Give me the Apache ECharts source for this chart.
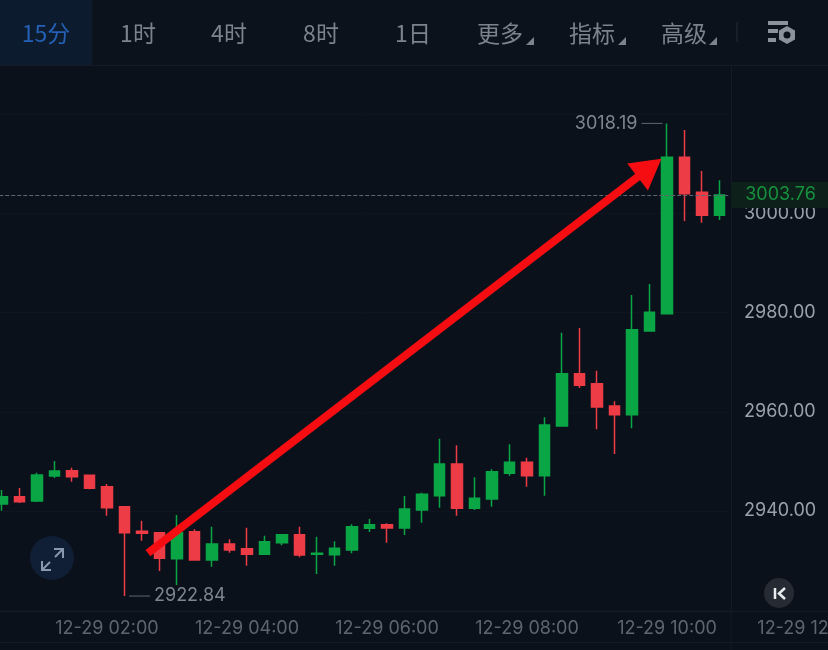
<!DOCTYPE html>
<html>
<head>
<meta charset="utf-8">
<style>
  html, body { margin: 0; padding: 0; background: #0b111b; }
  #main { width: 828px; height: 650px; }
</style>
<script src="https://cdn.jsdelivr.net/npm/echarts@6/dist/echarts.min.js"></script>
</head>
<body>
<div id="main"></div>
<script>
// time labels, every 15 minutes (the last ones have no candle yet)
var times = ["00:30","00:45","01:00","01:15","01:30","01:45","02:00","02:15","02:30","02:45","03:00","03:15",
  "03:30","03:45","04:00","04:15","04:30","04:45","05:00","05:15","05:30","05:45","06:00","06:15",
  "06:30","06:45","07:00","07:15","07:30","07:45","08:00","08:15","08:30","08:45","09:00","09:15",
  "09:30","09:45","10:00","10:15","10:30","10:45","11:00","11:15","11:30","11:45","12:00","12:15"];
var dateLabel = "12-29";
var shownTimes = ["02:00","04:00","06:00","08:00","10:00","12:00"];

var opens = [2941.41,2942.88,2942.01,2947.06,2948.13,2947.20,2944.90,2940.86,2935.90,2935.62,2930.37,2935.82,
  2930.11,2933.34,2932.39,2931.26,2933.60,2935.21,2931.26,2931.18,2932.13,2936.50,2937.23,2936.57,
  2940.20,2943.08,2949.48,2940.54,2942.42,2947.60,2949.82,2947.12,2957.14,2967.69,2965.68,2961.18,
  2959.42,2976.31,2979.80,3011.35,3004.29,2999.65];
var closes = [2942.88,2941.87,2947.26,2948.06,2946.91,2944.57,2940.66,2935.62,2935.50,2930.45,2935.62,2930.11,
  2933.34,2932.13,2931.26,2933.80,2935.21,2931.12,2931.46,2932.47,2936.83,2937.23,2936.57,2940.40,
  2943.36,2949.48,2940.54,2942.56,2947.92,2949.82,2947.12,2957.34,2967.69,2965.35,2960.98,2959.42,
  2976.57,2980.08,3011.35,3004.01,2999.65,3003.76];
var lows = [2940.06,2941.61,2941.81,2946.65,2945.91,2944.37,2939.05,2922.84,2934.00,2927.89,2925.07,2929.97,
  2928.76,2931.58,2928.96,2931.12,2933.07,2930.65,2927.28,2928.96,2931.46,2935.76,2933.60,2935.15,
  2937.63,2940.66,2939.05,2940.20,2940.86,2947.12,2944.90,2943.08,2957.14,2964.81,2956.48,2951.49,
  2956.68,2976.31,2979.80,2998.50,2998.16,2998.70];
var highs = [2944.23,2944.63,2947.72,2950.08,2948.73,2947.30,2945.44,2941.00,2938.04,2935.76,2939.19,2936.30,
  2936.83,2934.29,2936.63,2935.01,2935.35,2936.83,2934.81,2933.88,2937.31,2938.38,2937.51,2943.02,
  2943.69,2954.58,2953.25,2946.79,2948.41,2953.45,2950.75,2958.90,2975.97,2976.91,2968.30,2962.13,
  2983.57,2985.79,3018.19,3016.86,3008.59,3006.71];

var priceTicks = [2940, 2960, 2980, 3000];
var lastPrice = 3003.76;
var highPoint = [38, 3018.19];
var lowPoint = [7, 2922.84];
// red arrow drawn over the chart, [candle position, price]
var arrowFrom = [8.34, 2931.5];
var arrowTo = [37, 3009.2];

var tabs = ["15分", "1时", "4时", "8时", "1日", "更多", "指标", "高级"];
var tabCenters = [46, 138, 229, 321, 413, 500, 592, 684];

var GREEN = "#0aa645";
var RED = "#ee3c46";
var FONT = "Inter, Roboto, sans-serif";
var CJK = "'Noto Sans CJK SC', sans-serif";

var candleData = opens.map(function (o, i) {
  return [o, closes[i], lows[i], highs[i]];
});

var toolbar = tabs.map(function (t, i) {
  return {
    type: "text", z: 20,
    style: {
      text: t, x: tabCenters[i], y: 33, align: "center", verticalAlign: "middle",
      fill: i === 0 ? "#2460b4" : "#7b838d", font: "400 23px " + CJK
    }
  };
});
// little corner triangles next to 更多 / 指标 / 高级
[526, 618, 709].forEach(function (x) {
  toolbar.push({
    type: "polygon", z: 20,
    shape: { points: [[x + 8, 37], [x + 8, 45], [x, 45]] },
    style: { fill: "#7b838d" }
  });
});

var graphics = [
  { type: "rect", z: 10, shape: { x: 0, y: 0, width: 828, height: 65 }, style: { fill: "#0c121c" } },
  { type: "rect", z: 11, shape: { x: 0, y: 0, width: 92, height: 65 }, style: { fill: "#0d1b2e" } },
  { type: "line", z: 11, shape: { x1: 0, y1: 65.5, x2: 828, y2: 65.5 }, style: { stroke: "#141b26", lineWidth: 1 } },
  { type: "line", z: 11, shape: { x1: 0, y1: 642.5, x2: 828, y2: 642.5 }, style: { stroke: "#141b26", lineWidth: 1 } },
  { type: "line", z: 11, shape: { x1: 731, y1: 610, x2: 731, y2: 650 }, style: { stroke: "#141b26", lineWidth: 1 } },
  { type: "line", z: 20, shape: { x1: 737, y1: 22, x2: 737, y2: 42 }, style: { stroke: "#232a34", lineWidth: 1 } },
  // settings icon
  { type: "rect", z: 20, shape: { x: 768, y: 21, width: 20, height: 4 }, style: { fill: "#8a929b" } },
  { type: "rect", z: 20, shape: { x: 768, y: 29, width: 10, height: 4 }, style: { fill: "#8a929b" } },
  { type: "rect", z: 20, shape: { x: 768, y: 38, width: 8, height: 4 }, style: { fill: "#8a929b" } },
  { type: "polygon", z: 20, shape: { points: [[787, 26], [795, 30.5], [795, 39.5], [787, 44], [779, 39.5], [779, 30.5]] }, style: { fill: "#8a929b" } },
  { type: "circle", z: 21, shape: { cx: 787, cy: 35, r: 3.5 }, style: { fill: "#0c121c" } },
  // expand button
  { type: "circle", z: 20, shape: { cx: 52, cy: 558, r: 22 }, style: { fill: "#101f36" } },
  { type: "line", z: 21, shape: { x1: 55, y1: 557, x2: 63, y2: 549 }, style: { stroke: "#8a98ad", lineWidth: 2 } },
  { type: "line", z: 21, shape: { x1: 42, y1: 570, x2: 50, y2: 562 }, style: { stroke: "#8a98ad", lineWidth: 2 } },
  { type: "polyline", z: 21, shape: { points: [[54, 549], [63, 549], [63, 558]] }, style: { stroke: "#8a98ad", lineWidth: 2, fill: "none" } },
  { type: "polyline", z: 21, shape: { points: [[42, 561], [42, 570], [51, 570]] }, style: { stroke: "#8a98ad", lineWidth: 2, fill: "none" } },
  // jump to latest button
  { type: "circle", z: 20, shape: { cx: 779, cy: 593, r: 15 }, style: { fill: "#262b33" } },
  { type: "line", z: 21, shape: { x1: 775, y1: 588, x2: 775, y2: 599 }, style: { stroke: "#e8eaed", lineWidth: 2.5 } },
  { type: "polyline", z: 21, shape: { points: [[785, 588], [779, 593.5], [785, 599]] }, style: { stroke: "#e8eaed", lineWidth: 2.5, fill: "none" } }
].concat(toolbar);

var chart = echarts.init(document.getElementById("main"));
chart.setOption({
  backgroundColor: "#0b111b",
  animation: false,
  textStyle: { fontFamily: FONT },
  graphic: graphics,
  grid: [
    { left: -6.75, top: 64.85, width: 735, height: 545.25, outerBoundsMode: "none" },
    { left: -6.75, top: 610, width: 840, height: 1, outerBoundsMode: "none" }
  ],
  xAxis: [
    {
      type: "category", gridIndex: 0, data: times.slice(0, 42),
      axisLine: { show: false }, axisTick: { show: false }, axisLabel: { show: false }, splitLine: { show: false }
    },
    {
      type: "category", gridIndex: 1, data: times,
      axisLine: { show: true, lineStyle: { color: "#141b26" } },
      axisTick: { show: false },
      axisLabel: {
        color: "#5d6670", fontSize: 18, margin: 9, fontFamily: FONT, hideOverlap: false,
        interval: function (i, v) { return shownTimes.indexOf(v) >= 0; },
        formatter: function (v) { return dateLabel + " " + v; }
      },
      splitLine: { show: false }
    },
    // hidden numeric axis over the candle positions, only for the arrow
    { type: "value", gridIndex: 0, min: -0.5, max: 41.5, show: false, splitLine: { show: false } }
  ],
  yAxis: [
    {
      type: "value", gridIndex: 0, position: "right", offset: 2.75,
      min: 2920, max: 3030, interval: 20,
      axisLine: { show: true, onZero: false, lineStyle: { color: "#141b26" } },
      axisTick: { show: false },
      axisLabel: {
        color: "#99a1aa", fontSize: 18, margin: 13, fontFamily: FONT, padding: [10, 0, 0, 0],
        showMinLabel: false, showMaxLabel: false,
        formatter: function (v) { return priceTicks.indexOf(v) >= 0 ? v.toFixed(2) : ""; }
      },
      splitLine: { show: true, lineStyle: { color: "#0f151e" } }
    },
    { type: "value", gridIndex: 1, show: false }
  ],
  series: [
    {
      type: "candlestick", xAxisIndex: 0, yAxisIndex: 0,
      data: candleData, barWidth: 11,
      itemStyle: { color: GREEN, color0: RED, borderColor: GREEN, borderColor0: RED, borderWidth: 1.5 },
      markLine: {
        silent: true, symbol: "none", animation: false,
        lineStyle: { color: "#5f6670", type: "dashed", width: 1 },
        label: {
          position: "end", distance: 3, formatter: lastPrice.toFixed(2),
          color: "#16913f", fontSize: 18, fontFamily: FONT,
          backgroundColor: "#0d2019", padding: [6, 14, 2, 14]
        },
        data: [{ yAxis: lastPrice }]
      },
      markPoint: {
        silent: true, animation: false,
        symbol: "rect",
        itemStyle: { color: "#5f6670" },
        label: { color: "#7d8590", fontSize: 18, fontFamily: FONT, padding: [4, 0, 0, 0] },
        data: [
          {
            coord: highPoint, symbolSize: [21, 1], symbolOffset: [-15, 0],
            label: { position: "left", distance: 4, formatter: highPoint[1].toFixed(2) }
          },
          {
            coord: lowPoint, symbolSize: [21, 1], symbolOffset: [15, 0],
            label: { position: "right", distance: 4, formatter: lowPoint[1].toFixed(2) }
          }
        ]
      }
    },
    {
      type: "line", xAxisIndex: 2, yAxisIndex: 0, z: 6,
      data: [arrowFrom, arrowTo], showSymbol: false, lineStyle: { opacity: 0 }, silent: true,
      markLine: {
        silent: true, animation: false, z: 6,
        symbol: ["none", "triangle"], symbolSize: [34, 30],
        lineStyle: { color: "#f50d12", width: 8, type: "solid", opacity: 1 },
        itemStyle: { color: "#f50d12" },
        label: { show: false },
        data: [[{ coord: arrowFrom }, { coord: arrowTo }]]
      }
    }
  ]
});
</script>
</body>
</html>
